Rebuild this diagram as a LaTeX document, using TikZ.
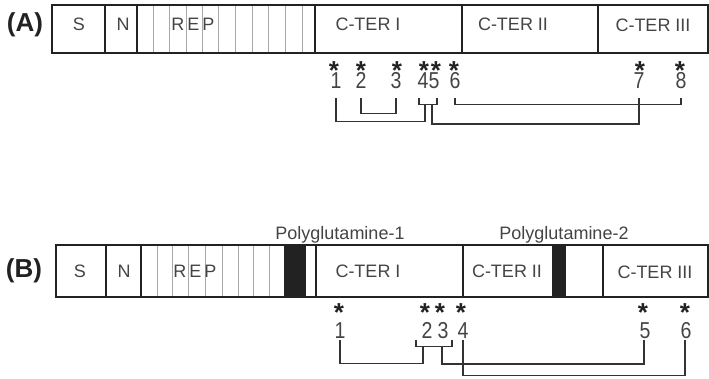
\documentclass[tikz,border=0pt]{standalone}
\usepackage{fontspec}
\setmainfont{Liberation Sans}
\usepackage{tikz}
\usetikzlibrary{positioning, calc}
\definecolor{barEdge}{HTML}{222222}
\definecolor{stripeGray}{HTML}{A8A8A8}
\definecolor{labelGray}{HTML}{444444}
\definecolor{linkGray}{HTML}{333333}

\begin{document}
\begin{tikzpicture}[x=1pt, y=-1pt,
    bar/.style={draw=barEdge, line width=1.8pt},
    stripe/.style={draw=stripeGray, line width=0.8pt},
    dom/.style={font=\fontsize{18}{18}\selectfont, text=labelGray, inner sep=0pt, anchor=base},
    panel/.style={font=\bfseries\fontsize{26}{26}\selectfont, text=barEdge, inner sep=0pt, anchor=base},
    site/.style={font=\bfseries\fontsize{26}{26}\selectfont, text=barEdge, inner sep=0pt, anchor=base},
    numA/.style={font=\fontsize{23}{23}\selectfont, text=labelGray, inner sep=0pt, anchor=base,
      text depth=9pt, xscale=0.85, transform shape},
    numB/.style={numA, text depth=2pt},
    link/.style={draw=linkGray, line width=1.1pt}
  ]
  \useasboundingbox (0,0) rectangle (709,379);

  % (A) protein bar
  \foreach \x in {153,169,186,202,218,235,252,268,285,302}
    \draw[stripe] (\x,5) -- (\x,53);
  \draw[bar] (52,5) rectangle (708,53);
  \foreach \x in {105,137,315,462,598}
    \draw[bar] (\x,5) -- (\x,53);

  \node[panel] (panelA) at (25,32) {(A)};
  \node[dom] (sA) at (79,31) {S};
  \node[dom] (nA) at (123,31) {N};
  \node[dom] (repA) at (193,31) {R\,E\,P};
  \node[dom] (cterIA) at (368,31) {C-TER I};
  \node[dom] (cterIIA) at (513,31) {C-TER II};
  \node[dom] (cterIIIA) at (653,32) {C-TER III};

  % (A) cysteine sites
  \node[numA] (a1) at (336,89) {1};
  \node[numA] (a2) at (361,89) {2};
  \node[numA] (a3) at (396,89) {3};
  \node[numA] (a4) at (423,89) {4};
  \node[numA] (a5) at (434,89) {5};
  \node[numA] (a6) at (455,89) {6};
  \node[numA] (a7) at (639,89) {7};
  \node[numA] (a8) at (681,89) {8};
  \foreach \n/\x in {1/334,2/361,3/397,4/424,5/436,6/454,7/640,8/680}
    \node[site] (sa\n) at (\x,80) {*};

  \coordinate (ja) at (425,104);
  \coordinate (jb) at (432,104);
  \draw[link] ([xshift=-4pt]a4.south) -- ++(0,6) -| ([xshift=3pt]a5.south);
  \draw[link] (a1.south) -- ++(0,23) -| (ja);
  \draw[link] (a2.south) -- ++(0,15) -| (a3.south);
  \draw[link] (a6.south) -- ++(0,6) -| (a8.south);
  \draw[link] (jb) -- ++(0,20) -| (a7.south);

  % (B) protein bar
  \foreach \x in {157,172,188,205,222,238,253,269}
    \draw[stripe] (\x,245) -- (\x,297);
  \fill[barEdge] (284,245) rectangle (306,297);
  \fill[barEdge] (552,245) rectangle (566,297);
  \draw[bar] (56,245) rectangle (708,297);
  \foreach \x in {106,141,316,463,603}
    \draw[bar] (\x,245) -- (\x,297);

  \node[panel] (panelB) at (24,277) {(B)};
  \node[dom] (sB) at (80,277) {S};
  \node[dom] (nB) at (124,277) {N};
  \node[dom] (repB) at (195,277) {R\,E\,P};
  \node[dom] (cterIB) at (368,277) {C-TER I};
  \node[dom] (cterIIB) at (507,277) {C-TER II};
  \node[dom] (cterIIIB) at (655,278) {C-TER III};
  \node[dom] (polyq1) at (340,240) {Polyglutamine-1};
  \node[dom] (polyq2) at (564,240) {Polyglutamine-2};

  % (B) cysteine sites
  \node[numB] (b1) at (340,338) {1};
  \node[numB] (b2) at (427,338) {2};
  \node[numB] (b3) at (443,338) {3};
  \node[numB] (b4) at (463,338) {4};
  \node[numB] (b5) at (645,338) {5};
  \node[numB] (b6) at (686,338) {6};
  \foreach \n/\x in {1/339,2/425,3/440,4/461,5/643,6/685}
    \node[site] (sb\n) at (\x,321.5) {*};

  \coordinate (jc) at (423,346);
  \coordinate (jd) at (442,346);
  \draw[link] ([xshift=-11pt]b2.south) -- ++(0,6) -| ([xshift=9pt]b3.south);
  \draw[link] (b1.south) -- ++(0,23) -| (jc);
  \draw[link] (jd) -- ++(0,18) -| ([xshift=-1pt]b5.south);
  \draw[link] (b4.south) -- ++(0,35) -| ([xshift=-1pt]b6.south);
\end{tikzpicture}
\end{document}
